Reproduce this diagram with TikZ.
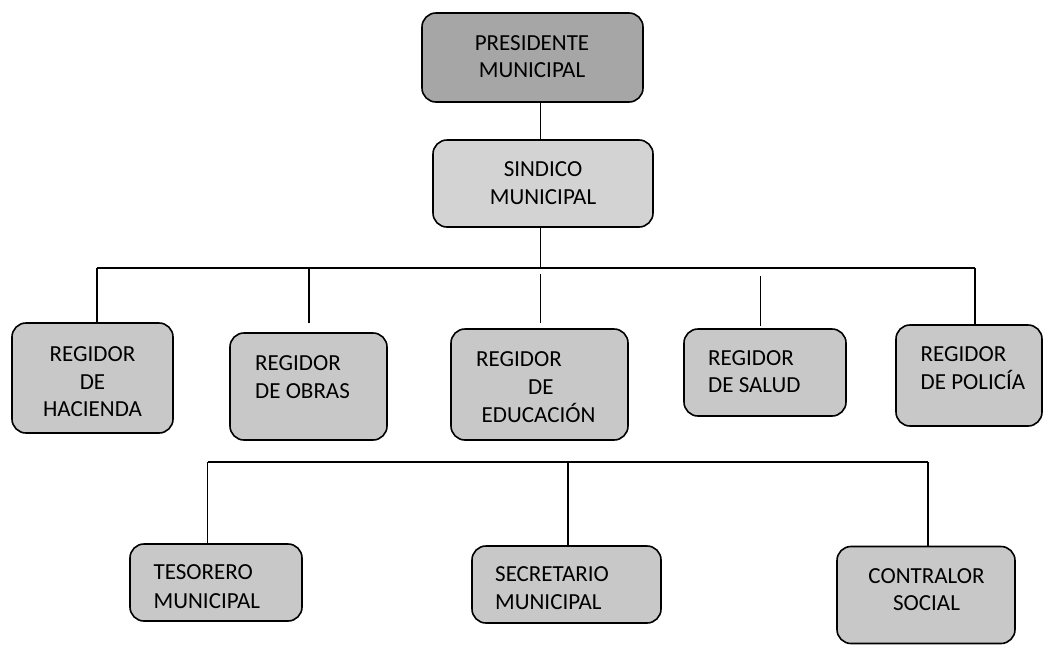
\documentclass[tikz,border=0pt]{standalone}
\usepackage{fontspec}
\setmainfont{Carlito}
\definecolor{presfill}{RGB}{166,166,166}
\definecolor{sindfill}{RGB}{211,211,211}
\definecolor{regfill}{RGB}{200,200,200}
\begin{document}
\begin{tikzpicture}[x=1pt,y=-1pt,
  box/.style={draw=black, line width=1.6pt, rounded corners=14pt, inner sep=0pt, fill=regfill},
  conn/.style={draw=black, line width=1.3pt},
  lbl/.style={inner sep=0pt, font=\fontsize{23}{28}\selectfont, text=black},
  lblw/.style={lbl, anchor=base west},
  lblc/.style={lbl, anchor=base}]
\useasboundingbox (0,0) rectangle (1044,646);
% boxes
\node[box, fill=presfill, minimum width=221pt, minimum height=89pt] (pres) at (532.5,57.5) {};
\node[box, fill=sindfill, minimum width=220pt, minimum height=87pt] (sind) at (543,183.5) {};
\node[box, minimum width=161pt, minimum height=110pt] (hac) at (92.5,378) {};
\node[box, minimum width=157pt, minimum height=107pt] (obr) at (308.5,386.5) {};
\node[box, minimum width=177pt, minimum height=111pt] (edu) at (539.5,384.5) {};
\node[box, minimum width=162pt, minimum height=87pt] (sal) at (765,372.5) {};
\node[box, minimum width=146pt, minimum height=101pt] (pol) at (969,375.5) {};
\node[box, minimum width=172pt, minimum height=77pt] (tes) at (216,582.5) {};
\node[box, minimum width=189pt, minimum height=77pt] (sec) at (566.5,584.5) {};
\node[box, minimum width=178pt, minimum height=97pt] (con) at (926,595) {};
% labels
\node[lblc] (tp1) at (532,50) {PRESIDENTE};
\node[lblc] (tp2) at (532,77) {MUNICIPAL};
\node[lblc] (ts1) at (543,176.5) {SINDICO};
\node[lblc] (ts2) at (543,204) {MUNICIPAL};
\node[lblc] (th1) at (92.5,361.5) {REGIDOR};
\node[lblc] (th2) at (92.5,389.5) {DE};
\node[lblc] (th3) at (92.5,416.5) {HACIENDA};
\node[lblw] (to1) at (255,370.5) {REGIDOR};
\node[lblw] (to2) at (255,398) {DE OBRAS};
\node[lblw] (te1) at (476,366) {REGIDOR};
\node[lblw] (te2) at (528,394.5) {DE};
\node[lblw] (te3) at (481.5,422.5) {EDUCACIÓN};
\node[lblw] (tl1) at (708,365) {REGIDOR};
\node[lblw] (tl2) at (708,392.5) {DE SALUD};
\node[lblw] (tq1) at (920.5,361.5) {REGIDOR};
\node[lblw] (tq2) at (920.5,389) {DE POLICÍA};
\node[lblw] (tt1) at (153.5,579.5) {TESORERO};
\node[lblw] (tt2) at (153.5,608) {MUNICIPAL};
\node[lblw] (tc1) at (495,581.5) {SECRETARIO};
\node[lblw] (tc2) at (495,609) {MUNICIPAL};
\node[lblc] (tr1) at (926.5,583) {CONTRALOR};
\node[lblc] (tr2) at (926.5,610.5) {SOCIAL};
% connectors, top
\draw[conn] ([xshift=8.2pt]pres.south) -- ([xshift=8.2pt]pres.south |- sind.north);
\coordinate (b1) at (97,268);
\coordinate (b2) at (975,268);
\draw[conn] ([xshift=-2.8pt]sind.south) -- ([xshift=-2.8pt]sind.south |- b1);
\draw[conn] (b1) -- (b2);
\draw[conn] (b1) -- (b1 |- hac.north);
\coordinate (o1) at (309,323);
\draw[conn] (o1 |- b1) -- (o1);
\coordinate (e1) at (540.5,274);
\coordinate (e2) at (540.5,323);
\draw[conn] (e1) -- (e2);
\coordinate (s1) at (760.5,276);
\coordinate (s2) at (760.5,326);
\draw[conn] (s1) -- (s2);
\draw[conn] (b2) -- (b2 |- pol.north);
% connectors, bottom
\coordinate (c1) at (207.5,462);
\coordinate (c2) at (928,462);
\coordinate (c3) at (568,462);
\draw[conn] (c1) -- (c2);
\draw[conn] (c1) -- (c1 |- tes.north);
\draw[conn] (c3) -- (c3 |- sec.north);
\draw[conn] (c2) -- (c2 |- con.north);
\end{tikzpicture}
\end{document}
